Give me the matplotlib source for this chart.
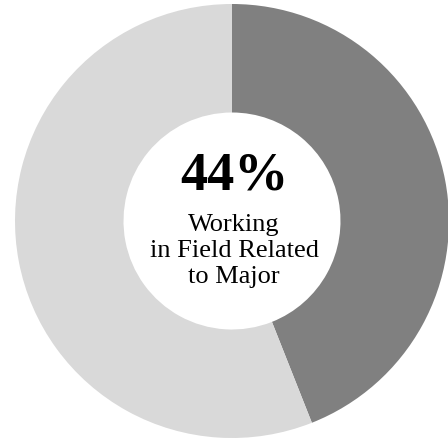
import matplotlib.pyplot as plt

labels = ['Working in field related to major', 'Other']
shares = [44, 56]
colors = ['#808080', '#d9d9d9']
big_label = '44%'
sub_label = 'Working\nin Field Related\nto Major'

plt.rcParams['font.family'] = ['Liberation Serif', 'DejaVu Serif']

fig = plt.figure(figsize=(4.48, 4.40), dpi=100)
ax = fig.add_axes([0, 0, 1, 1])
ax.pie(shares, colors=colors, startangle=90, counterclock=False,
       radius=1, wedgeprops=dict(width=0.5, linewidth=0))
ax.set_xlim(-232 / 217, 216 / 217)
ax.set_ylim(-219 / 217, 221 / 217)
ax.set_aspect('equal')
ax.axis('off')

ax.text(0.01, 0.143, big_label, ha='center', va='baseline',
        fontsize=39, fontweight='bold')
ax.text(0.01, -0.14, sub_label, ha='center', va='center',
        fontsize=19, linespacing=1.24)

fig.savefig('out.png', dpi=100, facecolor='white')
